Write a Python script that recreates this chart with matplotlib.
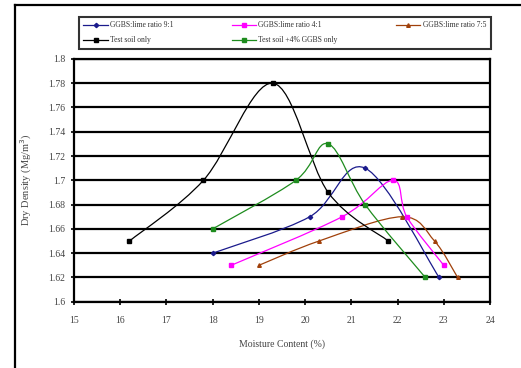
import numpy as np
import matplotlib
matplotlib.use("Agg")
import matplotlib.pyplot as plt
from matplotlib.path import Path
from matplotlib.patches import PathPatch
from matplotlib.lines import Line2D

# data
x_91 = [18.0, 20.1, 21.3, 22.9]
y_91 = [1.64, 1.67, 1.71, 1.62]
x_41 = [18.4, 20.8, 21.9, 22.2, 23.0]
y_41 = [1.63, 1.67, 1.70, 1.67, 1.63]
x_75 = [19.0, 20.3, 22.1, 22.8, 23.3]
y_75 = [1.63, 1.65, 1.67, 1.65, 1.62]
x_soil = [16.2, 17.8, 19.3, 20.5, 21.8]
y_soil = [1.65, 1.70, 1.78, 1.69, 1.65]
x_g4 = [18.0, 19.8, 20.5, 21.3, 22.6]
y_g4 = [1.66, 1.70, 1.73, 1.68, 1.62]

names = ["GGBS:lime ratio 9:1", "GGBS:lime ratio 4:1", "GGBS:lime ratio 7:5",
         "Test soil only", "Test soil +4% GGBS only"]
xticks = list(range(15, 25))
yticks = [1.6, 1.62, 1.64, 1.66, 1.68, 1.7, 1.72, 1.74, 1.76, 1.78, 1.8]
ylabels = ["1.6", "1.62", "1.64", "1.66", "1.68", "1.7", "1.72", "1.74", "1.76", "1.78", "1.8"]

series = [
    (x_91, y_91, "#1a1a8c", "D", 2.2),
    (x_41, y_41, "#ff00ff", "s", 2.8),
    (x_75, y_75, "#a0400a", "^", 2.6),
    (x_soil, y_soil, "black", "s", 2.4),
    (x_g4, y_g4, "#1e8c1e", "s", 2.6),
]


def smooth_path(xs, ys):
    # excel-style smoothed line (bezier through the points)
    p = np.column_stack([xs, ys]).astype(float)
    pts = [p[0]]
    codes = [Path.MOVETO]
    n = len(p)
    for i in range(n - 1):
        p0 = p[i - 1] if i > 0 else p[i]
        p1, p2 = p[i], p[i + 1]
        p3 = p[i + 2] if i + 2 < n else p[i + 1]
        c1 = p1 + (p2 - p0) / 6.0
        c2 = p2 - (p3 - p1) / 6.0
        pts += [c1, c2, p2]
        codes += [Path.CURVE4] * 3
    return Path(pts, codes)


plt.rcParams["font.family"] = ["Liberation Serif", "DejaVu Serif"]

fig = plt.figure(figsize=(5.21, 3.68), dpi=100)
ax = fig.add_axes([0.142, 0.180, 0.7985, 0.660])

for i, (xs, ys, c, m, ms) in enumerate(series):
    ax.add_patch(PathPatch(smooth_path(xs, ys), facecolor="none", edgecolor=c,
                           lw=0.9, zorder=3))
    ax.plot(xs, ys, ls="none", marker=m, color=c, ms=ms, zorder=4)

ax.set_xlim(15, 24)
ax.set_ylim(1.6, 1.8)
ax.set_xticks(xticks)
ax.set_yticks(yticks)
ax.set_yticklabels(ylabels)
for y in yticks:
    ax.axhline(y, color="black", lw=1.6, zorder=1)
for s in ax.spines.values():
    s.set_linewidth(1.6)
ax.tick_params(axis="both", direction="inout", length=5, width=1.2,
               labelsize=7, labelcolor="#444444", pad=4)
ax.tick_params(axis="x", pad=8)

ax.set_xlabel("Moisture Content (%)", fontsize=7, color="#444444", labelpad=10)
ax.set_ylabel("Dry Density (Mg/m$^3$)", fontsize=7.5, color="#444444", labelpad=10)

handles = [Line2D([], [], color=c, marker=m, ms=ms, lw=0.9)
           for (_, _, c, m, ms) in series]
# reorder so the legend fills row by row like the original
order = [0, 3, 1, 4, 2]
leg = fig.legend([handles[i] for i in order], [names[i] for i in order],
                 loc="upper left", bbox_to_anchor=(75 / 521, 1 - 13 / 368),
                 ncol=3, fontsize=5.5, frameon=True, fancybox=False,
                 edgecolor="black", handlelength=3.2, columnspacing=7.6,
                 borderpad=0.6, labelspacing=0.9, handletextpad=0.3)
leg.get_frame().set_linewidth(1.5)
for t in leg.get_texts():
    t.set_color("#333333")

# outer frame of the original picture
fig.add_artist(Line2D([15 / 521, 15 / 521], [0, 1 - 5 / 368],
                      transform=fig.transFigure, color="black", lw=1.6))
fig.add_artist(Line2D([15 / 521, 1], [1 - 5 / 368, 1 - 5 / 368],
                      transform=fig.transFigure, color="black", lw=1.6))

fig.savefig("out.png", dpi=100)
